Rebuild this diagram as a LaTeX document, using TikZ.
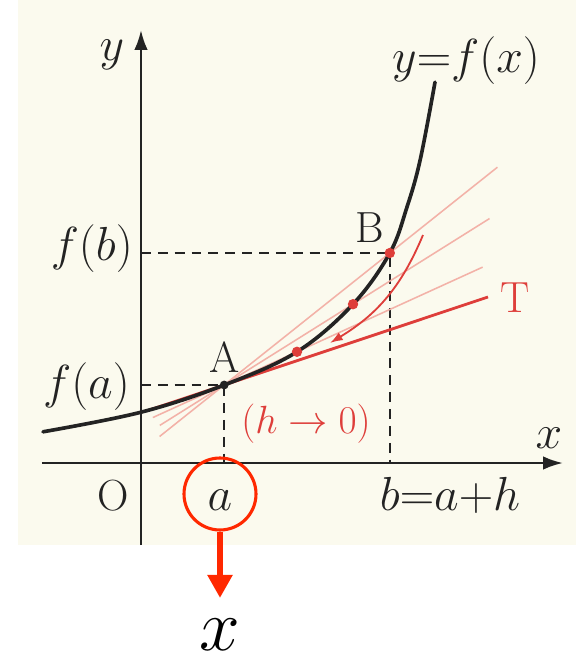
\RequirePackage{fix-cm}
\documentclass[tikz,border=0pt]{standalone}
\usetikzlibrary{arrows.meta,calc}
\definecolor{paperCream}{RGB}{251,250,238}
\definecolor{inkBlack}{RGB}{35,35,35}
\definecolor{printRed}{RGB}{222,62,58}
\definecolor{secantPink}{RGB}{243,178,168}
\definecolor{markRed}{RGB}{255,40,0}

\begin{document}
\begin{tikzpicture}[
  x=1cm, y=1cm,
  every node/.style={inner sep=0pt},
  mathlabel/.style={font=\fontsize{34}{40}\selectfont, text=inkBlack},
  romanlabel/.style={font=\fontsize{31}{36}\selectfont, text=inkBlack},
  axis/.style={-{Latex[length=0.5cm, width=0.34cm]}, line width=1.8pt, draw=inkBlack},
  guide/.style={dash pattern=on 7pt off 5pt, line width=1.3pt, draw=inkBlack},
  graph/.style={line width=2.6pt, draw=inkBlack, line cap=round},
  secant/.style={line width=1.1pt, draw=secantPink},
  tangent/.style={line width=2pt, draw=printRed},
  approach/.style={-{Latex[length=0.32cm, width=0.22cm]}, line width=1.3pt, draw=printRed},
  ptdot/.style={circle, fill=printRed, minimum size=0.26cm},
  ring/.style={circle, draw=markRed, line width=2.2pt, minimum size=1.8cm},
  pointer/.style={-{Triangle[length=0.58cm, width=0.6cm]}, line width=4.3pt, draw=markRed}
]

% - page and paper -
\useasboundingbox (-3.525,-4.925) rectangle (10.875,11.575);
\fill[paperCream] (-3.075,-2.05) rectangle (10.875,11.575);

% - axes -
\coordinate (O) at (0,0);
\coordinate (xstart) at (-2.475,0);
\coordinate (xend) at (10.55,0);
\coordinate (ystart) at (0,-2.05);
\coordinate (yend) at (0,10.825);
\draw[axis] (xstart) -- (xend);
\draw[axis] (ystart) -- (yend);

% - points on the graph -
\coordinate (A) at (2.08,1.95);
\coordinate (P3) at (3.9,2.78);
\coordinate (P2) at (5.3,3.97);
\coordinate (B) at (6.22,5.25);
\coordinate (Tend) at (8.675,4.15);

\draw[guide] (B -| O) -- (B) -- (B |- O);
\draw[guide] (A -| O) -- (A) -- (A |- O);

% - secants and tangent T -
\draw[secant] ($(A)!-0.39!(B)$) -- ($(A)!1.65!(B)$);
\draw[secant] ($(A)!-0.5!(P2)$) -- ($(A)!2.06!(P2)$);
\draw[secant] ($(A)!-0.98!(P3)$) -- ($(A)!3.55!(P3)$);
\draw[tangent] ($(A)!-0.28!(Tend)$) -- (Tend);

% - y = f(x) -
\draw[graph] plot[smooth, tension=0.6] coordinates {(-2.45,0.78) (0,1.27) (A) (P3) (P2) (B) (6.65,6.4) (6.98,7.58) (7.35,9.52)};

\node[ptdot] (dotB) at (B) {};
\node[ptdot] (dotP2) at (P2) {};
\node[ptdot] (dotP3) at (P3) {};
\node[circle, fill=inkBlack, minimum size=0.22cm] (dotA) at (A) {};

\coordinate (arcstart) at (7.05,5.7);
\coordinate (arcend) at (4.725,3.0);
\draw[approach] (arcstart) to[bend left=18] (arcend);

% - labels -
\node[mathlabel, anchor=base] (ylabel) at (-0.725,10.075) {$y$};
\node[mathlabel, anchor=base] (xlabel) at (10.2,0.375) {$x$};
\node[mathlabel, anchor=base] (curvelabel) at (8.125,9.775) {$y{=}f(x)$};
\node[mathlabel, anchor=base east] (fblabel) at (-0.2,5.075) {$f(b)$};
\node[mathlabel, anchor=base east] (falabel) at (-0.275,1.625) {$f(a)$};
\node[romanlabel, anchor=base] (Alabel) at (2.1,2.275) {A};
\node[romanlabel, anchor=base] (Blabel) at (5.725,5.525) {B};
\node[romanlabel, anchor=base, text=printRed] (Tlabel) at (9.35,3.775) {T};
\node[romanlabel, anchor=base] (Olabel) at (-0.7,-1.175) {O};
\node[mathlabel, anchor=base] (alabel) at (1.975,-1.175) {$a$};
\node[mathlabel, anchor=base] (blabel) at (7.725,-1.175) {$b{=}a{+}h$};
\node[font=\fontsize{28}{32}\selectfont, text=printRed, anchor=base] (hlabel) at (4.125,0.75) {$(h\to0)$};

% - marking a as x -
\node[ring] (aring) at (1.975,-0.775) {};
\coordinate (ptip) at (1.975,-3.375);
\draw[pointer] (aring.south) -- (ptip);
\node[font=\fontsize{52}{58}\selectfont, anchor=base] (xvar) at (1.975,-4.68) {$x$};

\end{tikzpicture}
\end{document}
